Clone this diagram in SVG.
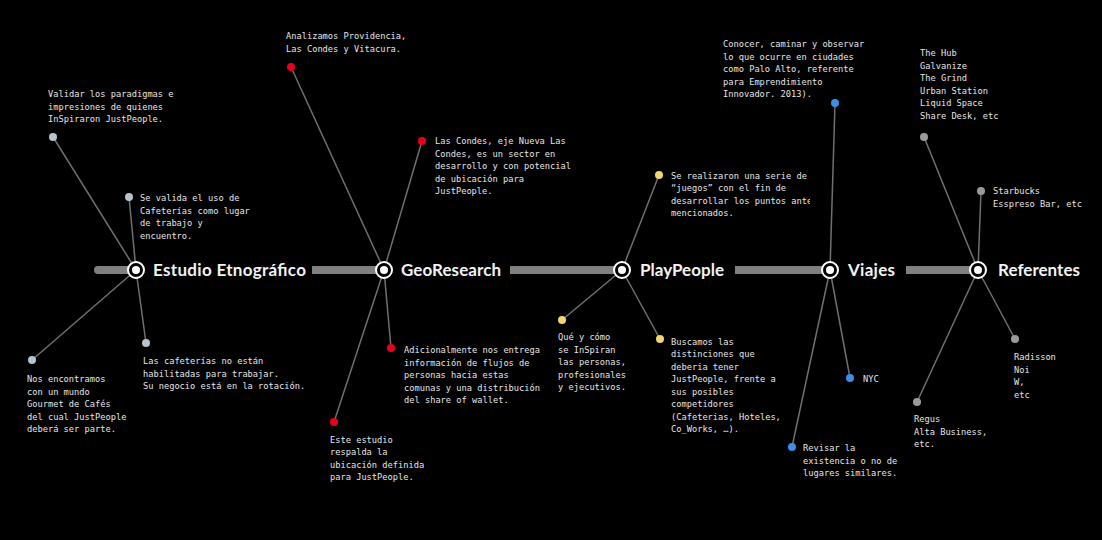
<svg xmlns="http://www.w3.org/2000/svg" width="1102" height="540" viewBox="0 0 1102 540">
<defs>
<style>
.bg{fill:#000}
.bar{fill:#808080}
.ring{fill:#000;stroke:#fff;stroke-width:2}
.core{fill:#fff}
.head{font-family:Lato,"Open Sans",sans-serif;font-weight:700;font-size:17px;fill:#f2f2f2}
.t{font-family:"DejaVu Sans Mono","Liberation Mono",monospace;font-size:8.7px;fill:#e6e6e6}
.sp{stroke:#707070;stroke-width:1.5;fill:none}
.d1{fill:#b5c4ce}
.d2{fill:#e8001c}
.d3{fill:#f3d470}
.d4{fill:#3b8fe6}
.d5{fill:#9a9a9a}
</style>
<clipPath id="clipPlay"><rect x="600" y="160" width="210" height="70"/></clipPath>
</defs>
<rect class="bg" x="0" y="0" width="1102" height="540"/>

<g id="timeline">
<rect class="bar" x="94" y="266" width="42" height="8" rx="4"/>
<rect class="bar" x="312" y="266" width="72" height="8"/>
<rect class="bar" x="510" y="266" width="112" height="8"/>
<rect class="bar" x="735" y="266" width="95" height="8"/>
<rect class="bar" x="906" y="266" width="72" height="8"/>
</g>

<g id="connectors">
<line class="sp" x1="136" y1="270" x2="53" y2="137"/>
<line class="sp" x1="136" y1="270" x2="129" y2="197"/>
<line class="sp" x1="136" y1="270" x2="146" y2="343"/>
<line class="sp" x1="136" y1="270" x2="32" y2="360"/>
<line class="sp" x1="384" y1="270" x2="291" y2="67"/>
<line class="sp" x1="384" y1="270" x2="422" y2="141"/>
<line class="sp" x1="384" y1="270" x2="391" y2="348"/>
<line class="sp" x1="384" y1="270" x2="334" y2="422"/>
<line class="sp" x1="622" y1="270" x2="659" y2="175"/>
<line class="sp" x1="622" y1="270" x2="562" y2="320"/>
<line class="sp" x1="622" y1="270" x2="660" y2="339"/>
<line class="sp" x1="830" y1="270" x2="835" y2="103"/>
<line class="sp" x1="830" y1="270" x2="850" y2="378"/>
<line class="sp" x1="830" y1="270" x2="792" y2="447"/>
<line class="sp" x1="978" y1="270" x2="924" y2="137"/>
<line class="sp" x1="978" y1="270" x2="981" y2="191"/>
<line class="sp" x1="978" y1="270" x2="1015" y2="339"/>
<line class="sp" x1="978" y1="270" x2="917" y2="402"/>
</g>

<g id="estudio">
<circle class="ring" cx="136" cy="270" r="8"/>
<circle class="core" cx="136" cy="270" r="4"/>
<text class="head" x="153" y="276" textLength="153">Estudio Etnográfico</text>
<circle class="d1" cx="53" cy="137" r="4"/>
<text class="t" x="48" y="97">Validar los paradigmas e</text>
<text class="t" x="48" y="109.5">impresiones de quienes</text>
<text class="t" x="48" y="122">InSpiraron JustPeople.</text>
<circle class="d1" cx="129" cy="197" r="4"/>
<text class="t" x="140" y="201">Se valida el uso de</text>
<text class="t" x="140" y="213.5">Cafeterías como lugar</text>
<text class="t" x="140" y="226">de trabajo y</text>
<text class="t" x="140" y="238.5">encuentro.</text>
<circle class="d1" cx="146" cy="343" r="4"/>
<text class="t" x="143" y="364">Las cafeterías no están</text>
<text class="t" x="143" y="376.5">habilitadas para trabajar.</text>
<text class="t" x="143" y="389">Su negocio está en la rotación.</text>
<circle class="d1" cx="32" cy="360" r="4"/>
<text class="t" x="27" y="382">Nos encontramos</text>
<text class="t" x="27" y="394.5">con un mundo</text>
<text class="t" x="27" y="407">Gourmet de Cafés</text>
<text class="t" x="27" y="419.5">del cual JustPeople</text>
<text class="t" x="27" y="432">deberá ser parte.</text>
</g>

<g id="georesearch">
<circle class="ring" cx="384" cy="270" r="8"/>
<circle class="core" cx="384" cy="270" r="4"/>
<text class="head" x="401" y="276" textLength="100">GeoResearch</text>
<circle class="d2" cx="291" cy="67" r="4"/>
<text class="t" x="286" y="39">Analizamos Providencia,</text>
<text class="t" x="286" y="51.5">Las Condes y Vitacura.</text>
<circle class="d2" cx="422" cy="141" r="4"/>
<text class="t" x="435" y="144">Las Condes, eje Nueva Las</text>
<text class="t" x="435" y="156.5">Condes, es un sector en</text>
<text class="t" x="435" y="169">desarrollo y con potencial</text>
<text class="t" x="435" y="181.5">de ubicación para</text>
<text class="t" x="435" y="194">JustPeople.</text>
<circle class="d2" cx="391" cy="348" r="4"/>
<text class="t" x="404" y="353">Adicionalmente nos entrega</text>
<text class="t" x="404" y="365.5">información de flujos de</text>
<text class="t" x="404" y="378">personas hacia estas</text>
<text class="t" x="404" y="390.5">comunas y una distribución</text>
<text class="t" x="404" y="403">del share of wallet.</text>
<circle class="d2" cx="334" cy="422" r="4"/>
<text class="t" x="330" y="442.5">Este estudio</text>
<text class="t" x="330" y="455">respalda la</text>
<text class="t" x="330" y="467.5">ubicación definida</text>
<text class="t" x="330" y="480">para JustPeople.</text>
</g>

<g id="playpeople">
<circle class="ring" cx="622" cy="270" r="8"/>
<circle class="core" cx="622" cy="270" r="4"/>
<text class="head" x="640" y="276" textLength="84">PlayPeople</text>
<circle class="d3" cx="659" cy="175" r="4"/>
<g clip-path="url(#clipPlay)">
<text class="t" x="671" y="178.5">Se realizaron una serie de</text>
<text class="t" x="671" y="191">“juegos” con el fin de</text>
<text class="t" x="671" y="203.5">desarrollar los puntos ante</text>
<text class="t" x="671" y="216">mencionados.</text>
</g>
<circle class="d3" cx="562" cy="320" r="4"/>
<text class="t" x="558" y="340">Qué y cómo</text>
<text class="t" x="558" y="352.5">se InSpiran</text>
<text class="t" x="558" y="365">las personas,</text>
<text class="t" x="558" y="377.5">profesionales</text>
<text class="t" x="558" y="390">y ejecutivos.</text>
<circle class="d3" cx="660" cy="339" r="4"/>
<text class="t" x="671" y="344.5">Buscamos las</text>
<text class="t" x="671" y="357">distinciones que</text>
<text class="t" x="671" y="369.5">deberia tener</text>
<text class="t" x="671" y="382">JustPeople, frente a</text>
<text class="t" x="671" y="394.5">sus posibles</text>
<text class="t" x="671" y="407">competidores</text>
<text class="t" x="671" y="419.5">(Cafeterias, Hoteles,</text>
<text class="t" x="671" y="432">Co_Works, …).</text>
</g>

<g id="viajes">
<circle class="ring" cx="830" cy="270" r="8"/>
<circle class="core" cx="830" cy="270" r="4"/>
<text class="head" x="848" y="276" textLength="47">Viajes</text>
<circle class="d4" cx="835" cy="103" r="4"/>
<text class="t" x="723" y="47">Conocer, caminar y observar</text>
<text class="t" x="723" y="59.5">lo que ocurre en ciudades</text>
<text class="t" x="723" y="72">como Palo Alto, referente</text>
<text class="t" x="723" y="84.5">para Emprendimiento</text>
<text class="t" x="723" y="97">Innovador. 2013).</text>
<circle class="d4" cx="850" cy="378" r="4"/>
<text class="t" x="863" y="381.5">NYC</text>
<circle class="d4" cx="792" cy="447" r="4"/>
<text class="t" x="803" y="451">Revisar la</text>
<text class="t" x="803" y="463.5">existencia o no de</text>
<text class="t" x="803" y="476">lugares similares.</text>
</g>

<g id="referentes">
<circle class="ring" cx="978" cy="270" r="8"/>
<circle class="core" cx="978" cy="270" r="4"/>
<text class="head" x="998" y="276" textLength="82">Referentes</text>
<circle class="d5" cx="924" cy="137" r="4"/>
<text class="t" x="920" y="56">The Hub</text>
<text class="t" x="920" y="68.5">Galvanize</text>
<text class="t" x="920" y="81">The Grind</text>
<text class="t" x="920" y="93.5">Urban Station</text>
<text class="t" x="920" y="106">Liquid Space</text>
<text class="t" x="920" y="118.5">Share Desk, etc</text>
<circle class="d5" cx="981" cy="191" r="4"/>
<text class="t" x="993" y="194">Starbucks</text>
<text class="t" x="993" y="206.5">Esspreso Bar, etc</text>
<circle class="d5" cx="1015" cy="339" r="4"/>
<text class="t" x="1014" y="360">Radisson</text>
<text class="t" x="1014" y="372.5">Noi</text>
<text class="t" x="1014" y="385">W,</text>
<text class="t" x="1014" y="397.5">etc</text>
<circle class="d5" cx="917" cy="402" r="4"/>
<text class="t" x="914" y="422">Regus</text>
<text class="t" x="914" y="434.5">Alta Business,</text>
<text class="t" x="914" y="447">etc.</text>
</g>
</svg>
